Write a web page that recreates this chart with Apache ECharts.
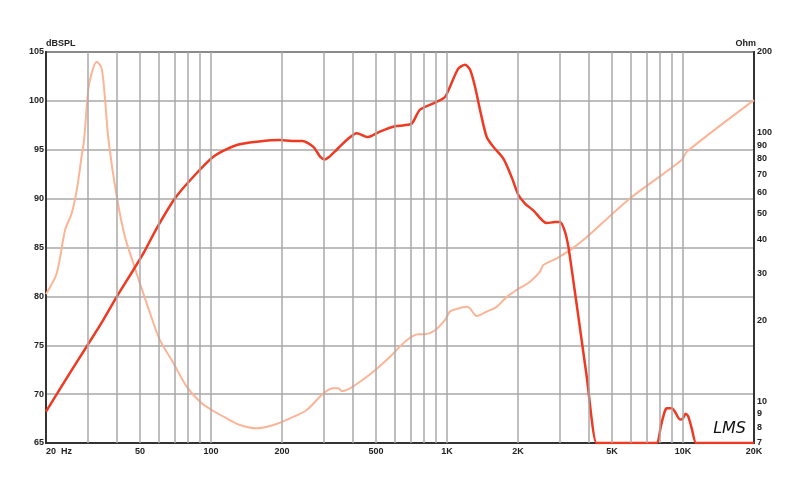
<!DOCTYPE html>
<html>
<head>
<meta charset="utf-8">
<script src="https://cdn.jsdelivr.net/npm/echarts@6/dist/echarts.min.js"></script>
<style>html,body{margin:0;padding:0;background:#fff;}#c{width:800px;height:484px;}</style>
</head>
<body>
<div id="c"></div>
<script>
// Frequency axis (Hz)
var freqLabels = [20, 50, 100, 200, 500, 1000, 2000, 5000, 10000, 20000];
var freqLabelText = ['20  Hz', '50', '100', '200', '500', '1K', '2K', '5K', '10K', '20K'];
var freqGrid = [30,40,50,60,70,80,90,100,200,300,400,500,600,700,800,900,1000,2000,3000,4000,5000,6000,7000,8000,9000,10000];
// Left axis dBSPL
var splTicks = [65, 70, 75, 80, 85, 90, 95, 100, 105];
// Right axis Ohm
var ohmTicks = [7, 8, 9, 10, 20, 30, 40, 50, 60, 70, 80, 90, 100, 200];

// SPL response [Hz, dB]
var splFreq = [20,25,29.7,35,39.9,46.9,52,58.9,70.4,84.2,102.4,128.6,160,196,220,243.6,271.6,290,304,318,341,376,415,462,520,601,660,711,769,905,981,1030,1117,1193,1252,1315,1380,1474,1572,1734,1880,2006,2142,2322,2646,2870,3014,3164,3268,3390,3592,3910,4300,4450,6000,7600,7780,8072,8392,8532,8960,9250,9716,9977,10272,10536,10892,11356,11700,20000];
var splDb   = [68.2,72.0,74.85,77.6,79.97,82.7,84.5,86.96,90.03,92.24,94.29,95.49,95.85,96.0,95.9,95.9,95.3,94.3,94.0,94.3,95.0,96.0,96.7,96.3,96.85,97.4,97.5,97.7,99.1,99.9,100.4,101.45,103.3,103.7,103.2,101.45,99.1,96.3,95.3,94.1,92.2,90.4,89.5,88.8,87.5,87.6,87.6,86.6,85.1,82.5,78.2,71.8,65,65,65,65,65,66.8,68.3,68.55,68.55,68.2,67.4,67.5,68.0,67.7,66.5,65,65,65];

// Impedance [Hz, Ohm]
var impFreq = [20,22.2,24.1,25.7,27.0,28.3,29.0,30.2,31.2,32.8,34.4,35.6,36.8,39.9,43.2,46.9,50.0,55.2,60.8,69.3,78.9,89.9,100.7,116.6,132.8,156.2,183.8,216.3,254.5,299.2,330,346.6,358,388,428,487,574,675,756,807,890,981,1030,1100,1212,1252,1337,1474,1624,1792,1975,2248,2479,2561,2918,3322,3782,5964,9878,10372,20000];
var impOhm  = [25.1,30.0,43.5,50.2,61.2,81.5,94.0,144.4,166.5,184,173.8,132.4,94.0,57.8,41.0,32.7,27.5,21.3,16.9,13.9,11.35,9.97,9.29,8.65,8.17,7.94,8.17,8.65,9.29,10.7,11.19,11.19,10.93,11.19,11.84,12.9,14.67,16.9,17.8,17.8,18.4,20.1,21.6,22.1,22.5,22.2,20.8,21.6,22.5,24.5,26.0,27.9,30.4,32.2,34.1,36.6,39.9,57.0,79.2,85.0,132.4];

function zip(a, b) { var r = []; for (var i = 0; i < a.length; i++) r.push([a[i], b[i]]); return r; }

var labelFont = { fontFamily: 'Liberation Sans, Arial, sans-serif', fontSize: 9, color: '#222', fontWeight: 'bold' };

var chart = echarts.init(document.getElementById('c'), null, { renderer: 'canvas' });
chart.setOption({
  animation: false,
  backgroundColor: '#ffffff',
  grid: { left: 46, right: 46, top: 52, bottom: 41, show: true, borderColor: '#333', borderWidth: 2, backgroundColor: 'transparent' },
  xAxis: {
    type: 'log', logBase: 10, min: 20, max: 20000,
    axisLine: { show: true, lineStyle: { color: '#333', width: 2 } },
    axisTick: { show: false },
    splitLine: { show: false },
    axisLabel: Object.assign({
      customValues: freqLabels,
      margin: 4,
      alignMinLabel: 'left',
      formatter: function (v) {
        var i = freqLabels.indexOf(Math.round(v));
        return i >= 0 ? freqLabelText[i] : '';
      }
    }, labelFont)
  },
  yAxis: [{
    type: 'value', min: 65, max: 105, interval: 5,
    name: 'dBSPL', nameLocation: 'end', nameGap: 3,
    nameTextStyle: Object.assign({ align: 'left', padding: [0, 0, 0, 0] }, labelFont),
    axisLine: { show: true, lineStyle: { color: '#333', width: 2 } },
    axisTick: { show: false },
    splitLine: { show: true, lineStyle: { color: '#a8a8a8', width: 1.5 } },
    axisLabel: Object.assign({ margin: 2 }, labelFont)
  }, {
    type: 'log', logBase: 10, min: 7, max: 200, position: 'right',
    name: 'Ohm', nameLocation: 'end', nameGap: 3,
    nameTextStyle: Object.assign({ align: 'right', padding: [0, -2, 0, 0] }, labelFont),
    axisLine: { show: true, lineStyle: { color: '#333', width: 2 } },
    axisTick: { show: false },
    splitLine: { show: false },
    axisLabel: Object.assign({
      customValues: ohmTicks, margin: 3, showMinLabel: true, showMaxLabel: true,
      formatter: function (v) { return String(Math.round(v)); }
    }, labelFont)
  }],
  series: [{
    type: 'line', data: [], z: 1, silent: true,
    markLine: {
      silent: true, symbol: ['none', 'none'], label: { show: false },
      lineStyle: { color: '#a8a8a8', width: 1.5, type: 'solid' },
      data: freqGrid.map(function (f) { return { xAxis: f }; })
    }
  }, {
    name: 'Impedance', type: 'line', yAxisIndex: 1, z: 3,
    data: zip(impFreq, impOhm), showSymbol: false, smooth: 0.3,
    lineStyle: { color: '#fcb497', width: 2 }
  }, {
    name: 'SPL', type: 'line', yAxisIndex: 0, z: 4,
    data: zip(splFreq, splDb), showSymbol: false, smooth: 0.25,
    lineStyle: { color: '#ee3a22', width: 2.5 }
  }],
  graphic: [{
    type: 'text', right: 54, bottom: 47,
    style: { text: 'LMS', font: 'italic 16px "DejaVu Sans", sans-serif', fill: '#111' }
  }]
});
</script>
</body>
</html>
